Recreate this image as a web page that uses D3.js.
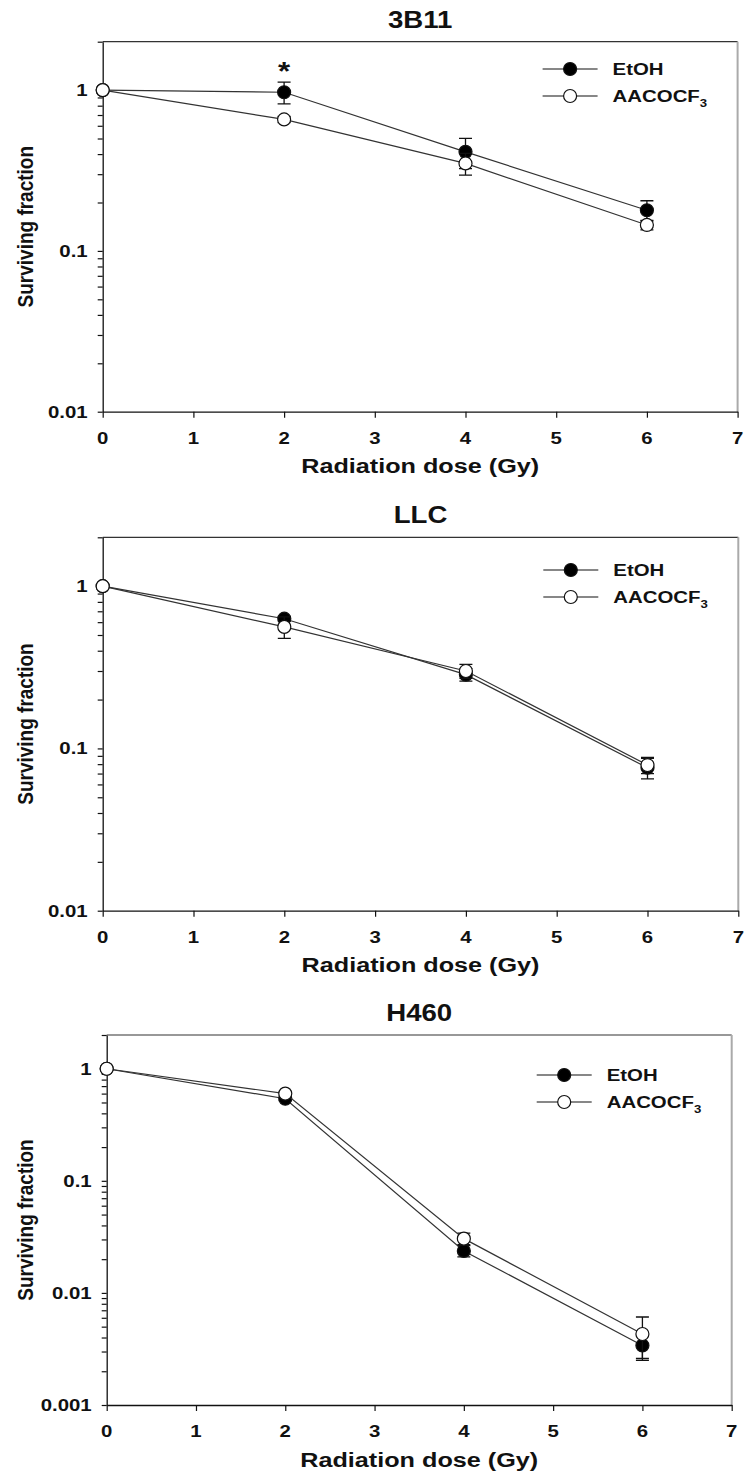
<!DOCTYPE html>
<html>
<head>
<meta charset="utf-8">
<script src="https://cdn.jsdelivr.net/npm/d3@7"></script>
<style>
  html, body { margin: 0; padding: 0; background: #fff; }
  svg { display: block; font-family: "Liberation Sans", Arial, sans-serif; }
</style>
</head>
<body>
<svg id="chart" width="748" height="1474"></svg>
<script>
// ---- data ----
const doses = [0, 2, 4, 6];
const xTicks = [0, 1, 2, 3, 4, 5, 6, 7];
const cellLines = ["3B11", "LLC", "H460"];
const seriesNames = ["EtOH", "AACOCF3"];

const etoh3B11 = [1, 0.97, 0.413, 0.179];
const etoh3B11Err = [0, 0.15, 0.088, 0.026];
const aaco3B11 = [1, 0.657, 0.35, 0.145];
const aaco3B11Err = [0, 0.03, 0.054, 0.01];

const etohLLC = [1, 0.63, 0.285, 0.076];
const etohLLCErr = [0, 0.02, 0.025, 0.011];
const aacoLLC = [1, 0.561, 0.30, 0.079];
const aacoLLCErr = [0, 0.085, 0.03, 0.009];

const etohH460 = [1, 0.54, 0.0237, 0.0034];
const etohH460Err = [0, 0.02, 0.0027, 0.0008];
const aacoH460 = [1, 0.60, 0.0305, 0.0043];
const aacoH460Err = [0, 0.02, 0.0036, 0.0018];

const yMins = [0.01, 0.01, 0.001];
const yMax = 2;
// significance mark: panel index, dose
const sigMarks = [{ panel: 0, dose: 2 }];

// ---- layout ----
const SX = 1.2; // the source figure is a bit stretched horizontally
const layouts = [
  { left: 102.7, right: 737.6, top: 41.7, bottom: 411.7, legendY: 69 },
  { left: 102.7, right: 738.3, top: 537.3, bottom: 910.7, legendY: 570 },
  { left: 106.7, right: 731.7, top: 1035, bottom: 1405, legendY: 1075 }
];

const panels = [
  { title: cellLines[0], yMin: yMins[0], etoh: etoh3B11, etohErr: etoh3B11Err, aaco: aaco3B11, aacoErr: aaco3B11Err },
  { title: cellLines[1], yMin: yMins[1], etoh: etohLLC, etohErr: etohLLCErr, aaco: aacoLLC, aacoErr: aacoLLCErr },
  { title: cellLines[2], yMin: yMins[2], etoh: etohH460, etohErr: etohH460Err, aaco: aacoH460, aacoErr: aacoH460Err }
];

const svg = d3.select("#chart");

function stretchText(g, x, y, str, size, anchor) {
  return g.append("text")
    .attr("transform", "translate(" + x + "," + y + ") scale(" + SX + ",1)")
    .attr("text-anchor", anchor || "middle")
    .attr("fill", "#111")
    .style("font-size", size + "px")
    .style("font-weight", "bold")
    .text(str);
}

function fmtY(v) {
  const e = Math.round(Math.log10(v));
  return e >= 0 ? String(Math.pow(10, e)) : (Math.pow(10, e)).toFixed(-e);
}

panels.forEach((p, pi) => {
  const L = layouts[pi];
  const g = svg.append("g");

  const x = d3.scaleLinear().domain([0, 7]).range([L.left, L.right]);
  const y = d3.scaleLog().domain([p.yMin, yMax]).range([L.bottom, L.top]);

  // frame: top dark, right light gray
  g.append("line")
    .attr("x1", L.left).attr("x2", L.right)
    .attr("y1", L.top).attr("y2", L.top)
    .attr("stroke", "#333").attr("stroke-width", 1.2);
  g.append("line")
    .attr("x1", L.right).attr("x2", L.right)
    .attr("y1", L.top).attr("y2", L.bottom)
    .attr("stroke", "#aaa").attr("stroke-width", 2);

  // axes
  const xAxis = g.append("g")
    .attr("transform", "translate(0," + L.bottom + ")")
    .call(d3.axisBottom(x).tickValues(xTicks).tickSize(6).tickSizeOuter(0).tickFormat(""));
  const yTickVals = y.ticks().filter(v => v >= p.yMin * 0.999 && v <= yMax * 1.001);
  const yAxis = g.append("g")
    .attr("transform", "translate(" + L.left + ",0)")
    .call(d3.axisLeft(y).tickValues(yTickVals).tickSize(5).tickSizeOuter(0).tickFormat(""));
  [xAxis, yAxis].forEach(a => {
    a.select(".domain").attr("stroke", "#111").attr("stroke-width", 1.3);
    a.selectAll(".tick line").attr("stroke", "#111").attr("stroke-width", 1.2);
  });

  // tick labels
  xTicks.forEach(t => stretchText(g, x(t), L.bottom + 32, t, 17, "middle"));
  yTickVals.filter(v => Math.abs(Math.log10(v) - Math.round(Math.log10(v))) < 1e-6)
    .forEach(v => stretchText(g, L.left - 15, y(v) + 6, fmtY(v), 17, "end"));

  // titles
  stretchText(g, (L.left + L.right) / 2, L.top - 14, p.title, 23, "middle");
  stretchText(g, (L.left + L.right) / 2, L.bottom + 61.5, "Radiation dose (Gy)", 21, "middle");
  g.append("text")
    .attr("transform", "translate(33," + ((L.top + L.bottom) / 2) + ") rotate(-90) scale(1," + SX + ")")
    .attr("text-anchor", "middle")
    .attr("fill", "#111")
    .style("font-size", "19px")
    .style("font-weight", "bold")
    .text("Surviving fraction");

  // series
  const series = [
    { vals: p.etoh, errs: p.etohErr, fill: "#000" },
    { vals: p.aaco, errs: p.aacoErr, fill: "#fff" }
  ];
  const line = d3.line().x(d => x(d.dose)).y(d => y(d.sf));

  series.forEach(s => {
    const pts = doses.map((d, i) => ({ dose: d, sf: s.vals[i], err: s.errs[i] }));
    const sg = g.append("g");

    sg.selectAll(".err").data(pts.filter(d => d.err > 0)).enter()
      .append("path")
      .attr("d", d => {
        const cx = x(d.dose), y1 = y(d.sf + d.err), y2 = y(Math.max(d.sf - d.err, p.yMin));
        return "M" + (cx - 6.5) + "," + y1 + "H" + (cx + 6.5) +
          "M" + cx + "," + y1 + "V" + y2 +
          "M" + (cx - 6.5) + "," + y2 + "H" + (cx + 6.5);
      })
      .attr("fill", "none").attr("stroke", "#111").attr("stroke-width", 1.3);

    sg.append("path")
      .datum(pts)
      .attr("d", line)
      .attr("fill", "none").attr("stroke", "#333").attr("stroke-width", 1.2);

    sg.selectAll("circle").data(pts).enter()
      .append("circle")
      .attr("cx", d => x(d.dose)).attr("cy", d => y(d.sf))
      .attr("r", 6.5)
      .attr("fill", s.fill).attr("stroke", "#111").attr("stroke-width", 1.2);
  });

  // legend
  series.forEach((s, i) => {
    const ly = L.legendY + i * 27;
    g.append("line")
      .attr("x1", L.right - 195).attr("x2", L.right - 140)
      .attr("y1", ly).attr("y2", ly)
      .attr("stroke", "#111").attr("stroke-width", 1.2);
    g.append("circle")
      .attr("cx", L.right - 167.5).attr("cy", ly).attr("r", 6.5)
      .attr("fill", s.fill).attr("stroke", "#111").attr("stroke-width", 1.2);
    const t = stretchText(g, L.right - 125, ly + 6, "", 17, "start");
    if (seriesNames[i] === "AACOCF3") {
      t.append("tspan").text("AACOCF");
      t.append("tspan").attr("dy", 5).style("font-size", "11px").text("3");
    } else {
      t.text(seriesNames[i]);
    }
  });

  // significance asterisk
  sigMarks.filter(m => m.panel === pi).forEach(m => {
    const i = doses.indexOf(m.dose);
    const topY = y(p.etoh[i] + p.etohErr[i]);
    stretchText(g, x(m.dose), topY - 2.5, "*", 26, "middle");
  });
});
</script>
</body>
</html>
